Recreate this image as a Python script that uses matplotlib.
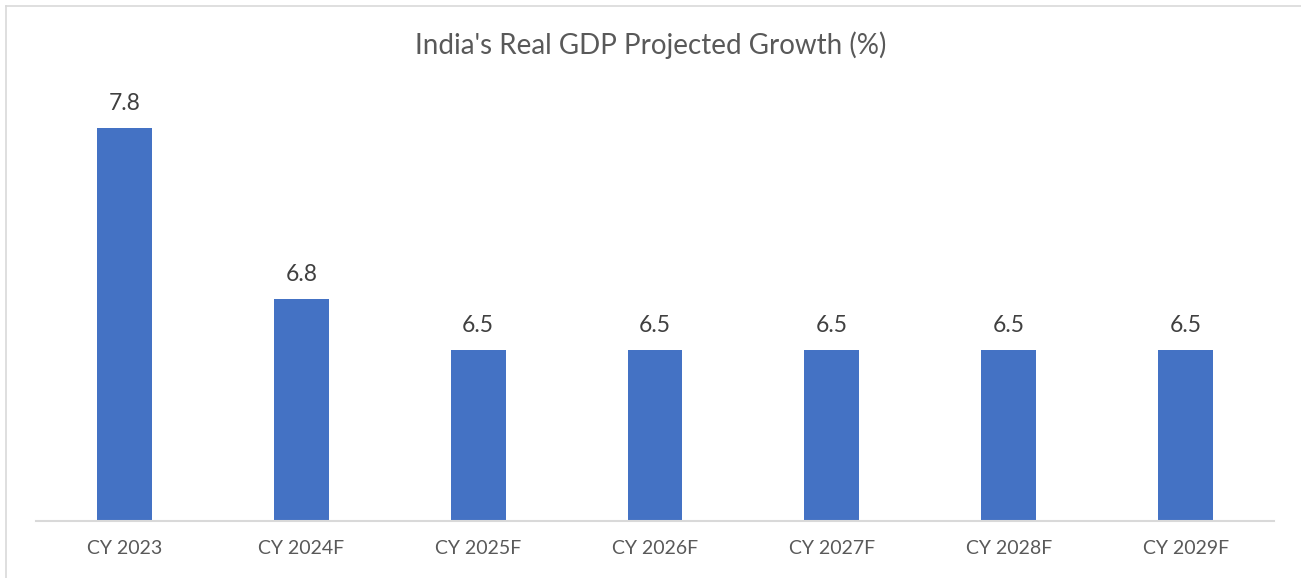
import matplotlib
matplotlib.use("Agg")
import matplotlib.pyplot as plt
from matplotlib.lines import Line2D

plt.rcParams['font.family'] = ['Lato', 'DejaVu Sans']

years = ["CY 2023", "CY 2024F", "CY 2025F", "CY 2026F", "CY 2027F", "CY 2028F", "CY 2029F"]
growth = [7.8, 6.8, 6.5, 6.5, 6.5, 6.5, 6.5]

bar_col = "#4472C4"
txt_col = "#595959"

fig = plt.figure(figsize=(13.01, 5.78), dpi=100)
ax = fig.add_axes([36 / 1301, 57 / 578, (1274 - 36) / 1301, (521 - 93.5) / 578])

x = range(len(years))
bars = ax.bar(x, growth, width=0.31, color=bar_col, zorder=2)
ax.set_xlim(-0.5, len(years) - 0.5)
ax.set_ylim(5.5, 8.0)

for b, v in zip(bars, growth):
    ax.annotate(f"{v:.1f}", (b.get_x() + b.get_width() / 2, v), xytext=(0, 10),
                textcoords="offset points", ha="center", va="bottom",
                fontsize=16.5, color="#404040")

ax.set_xticks(list(x))
ax.set_xticklabels(years, fontsize=14, color=txt_col)
ax.tick_params(axis="x", length=0, pad=14)
ax.set_yticks([])
for s in ["top", "right", "left"]:
    ax.spines[s].set_visible(False)
ax.spines["bottom"].set_color("#D9D9D9")
ax.spines["bottom"].set_linewidth(1.5)

fig.text(0.5, 1 - 45 / 578, "India's Real GDP Projected Growth (%)", ha="center", va="center",
         fontsize=20, color=txt_col)

# chart area border (top and left edges visible)
fig.add_artist(Line2D([6 / 1301, 1.0], [1 - 6 / 578, 1 - 6 / 578], transform=fig.transFigure,
                      color="#D9D9D9", lw=1.2))
fig.add_artist(Line2D([6 / 1301, 6 / 1301], [0.0, 1 - 6 / 578], transform=fig.transFigure,
                      color="#D9D9D9", lw=1.2))

fig.savefig("out.png", dpi=100)
